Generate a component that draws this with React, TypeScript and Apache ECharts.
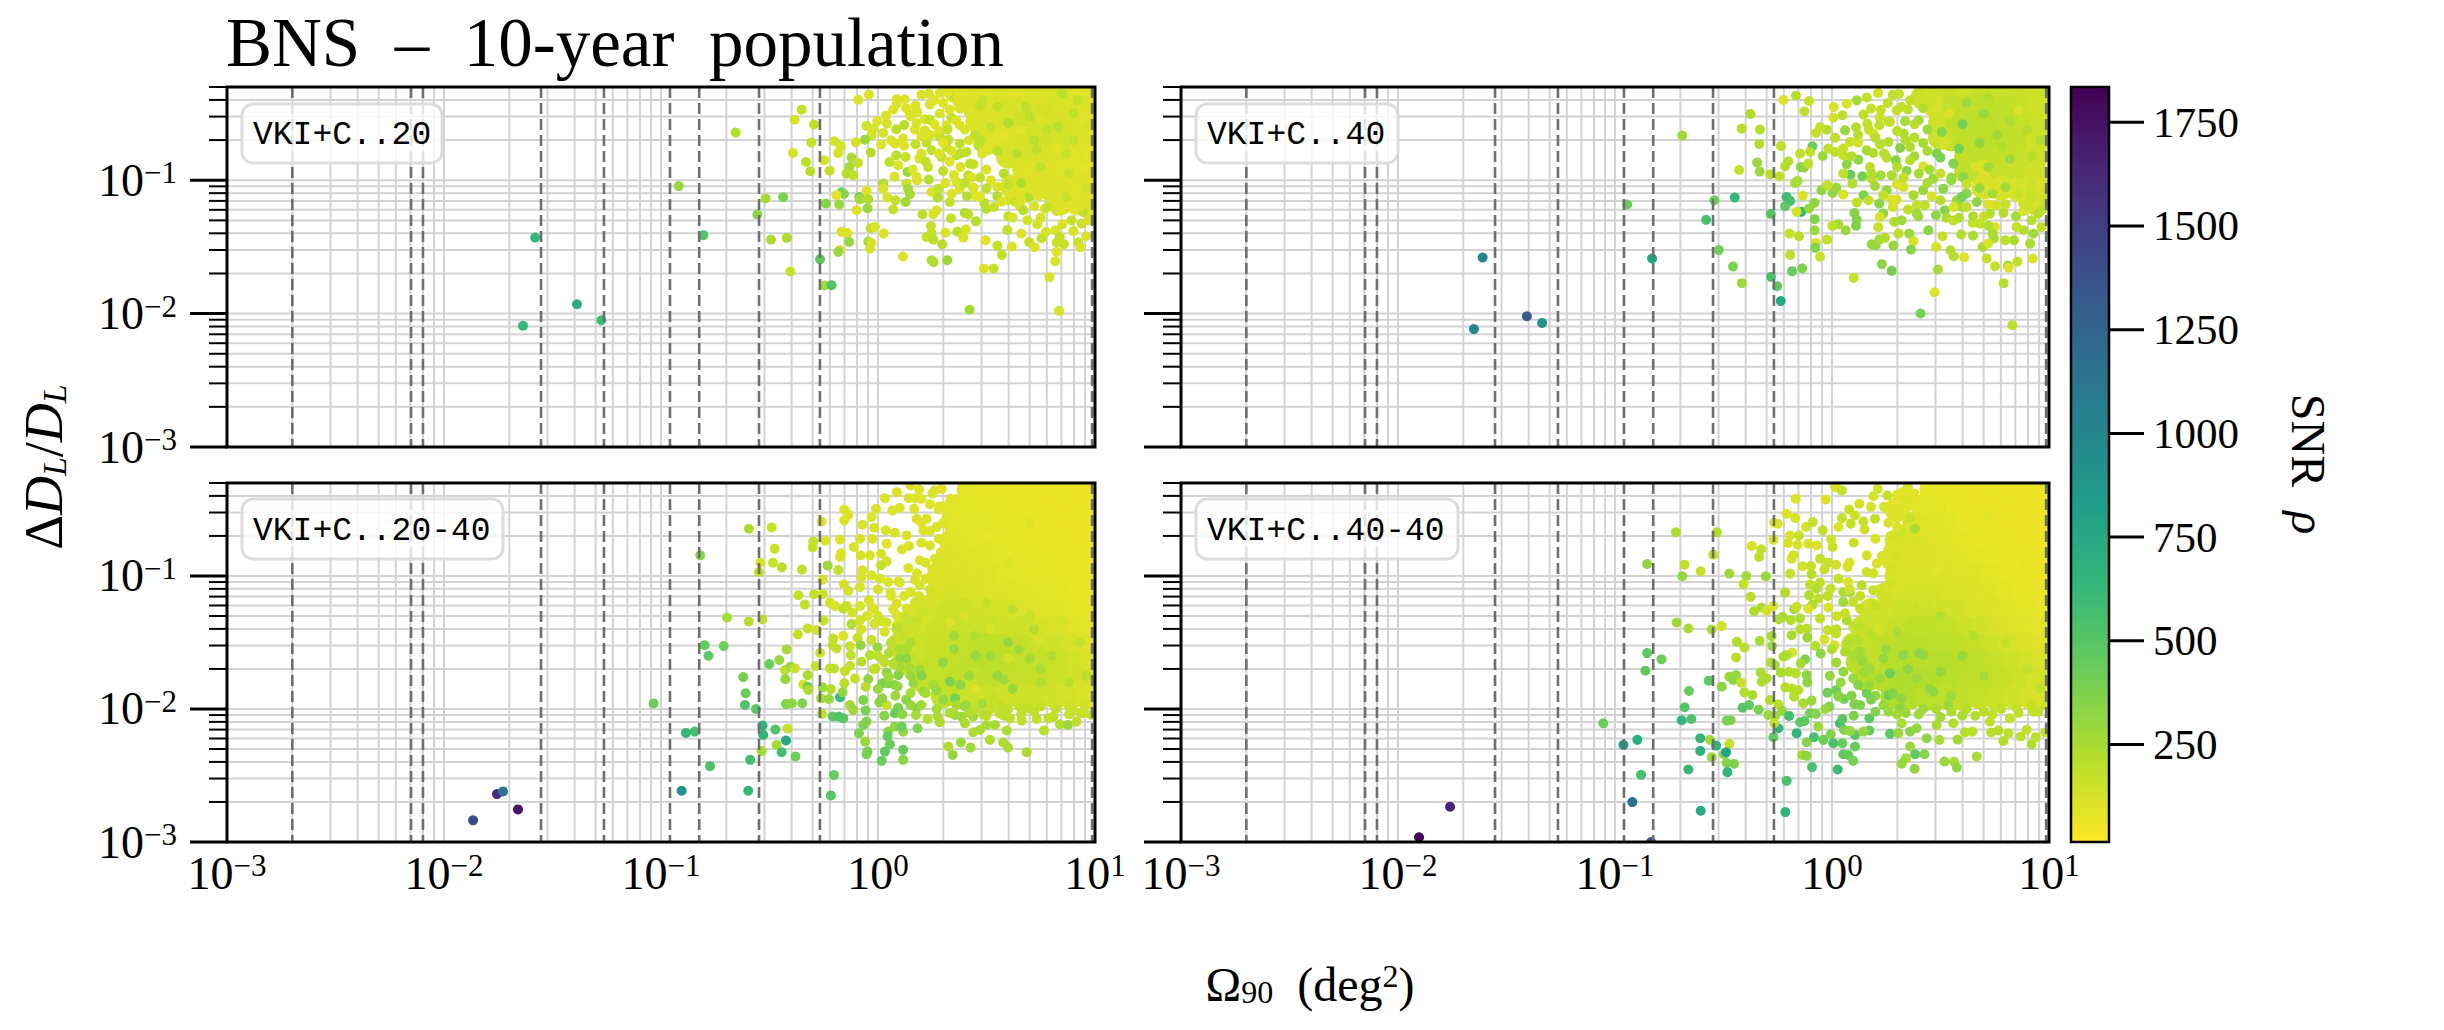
import { useEffect, useRef } from "react";
import * as echarts from "echarts";

// every point is [log10 sky area, log10 dL/dL, SNR]
const pointsTL = [
  [-1.636,-2.091,620],[-1.58,-1.43,620],[-1.387,-1.93,720],[-1.275,-2.05,600],[-.918,-1.044,300],[-.805,-1.412,520],[-.656,-.643,220],
  [-.518,-1.137,270],[-.437,-1.127,380],[-.556,-1.257,350],[-.493,-1.445,240],[-.42,-1.432,240],[-.404,-1.684,170],[-.267,-1.592,470],[-.247,-1.789,270],[-.214,-1.787,520],
  [.422,-1.971,270],[.834,-1.979,130],[-.352,-.471,170],[-.384,-.546,130],[-.295,-.583,170],[-.307,-.718,170],[-.392,-.795,130],[-.332,-.863,210],[-.312,-.933,210],
  [-.248,-.85,130],[-.223,-.928,170],[-.201,-.708,130],[-.172,-.743,130],[-.183,-.795,130],[-.122,-.83,250],[-.092,-.87,170],[-.132,-.9,250],[-.145,-.95,220],[-.114,-.962,200],
  [-.168,-1.09,400],[-.157,-1.103,350],[-.191,-1.112,100],[-.24,-1.175,350],[-.179,-1.182,300],[-.086,-1.125,420],[-.083,-1.142,260],[-.053,-1.08,100],[-.045,-1.142,230],[-.048,-1.21,290],[-.099,-1.225,110],
  [-.168,-1.387,110],[-.142,-1.395,110],[-.133,-1.462,300],[-.176,-1.524,110],[-.183,-1.537,300],[-.034,-1.36,180],[-.014,-1.35,110],[.026,-1.4,110],[-.045,-1.46,270],[-.03,-1.47,110],[-.037,-1.512,130],
  [.115,-1.572,110],[.247,-1.6,240],[.256,-1.614,230],[.319,-1.6,290],[.488,-1.662,100],[.533,-1.662,170],[.496,-1.45,100],[.55,-1.492,180],[.571,-1.56,170],[.617,-1.497,100],[.697,-1.464,170],[.722,-1.502,110],
  [.754,-1.435,170],[.774,-1.387,130],[.818,-1.375,110],[.823,-1.537,100],[.817,-1.607,110],[.79,-1.727,130],[.857,-1.48,170],[.922,-1.465,170],[.933,-1.502,110],[.823,-1.467,170],[.838,-1.425,170],
  [-.091,-.396,110],[-.042,-.358,110],[.086,-.393,110],[.123,-.393,110],[.086,-.426,110],[.173,-.441,110],[.181,-.488,110],[.147,-.506,110],[.239,-.433,110],[.216,-.543,110],[.239,-.546,180],
  [.037,-.516,130],[-.003,-.556,110],[-.053,-.593,150],[-.022,-.613,130],[.041,-.576,130],[.084,-.618,200],[.121,-.585,210],[.178,-.571,110],[.216,-.626,110],[.024,-.646,130],[-.029,-.663,130],[-.06,-.696,290],
  [-.102,-.716,130],[.015,-.733,110],[.078,-.725,110],[.116,-.688,110],[.173,-.73,200],[.224,-.718,180],[.247,-.775,200],[-.033,-.793,210],[.084,-.813,200],[.127,-.825,170],[.053,-.863,190],[.093,-.888,110],
  [.136,-.938,300],[.19,-.838,110],[.231,-.9,170],[.293,-.825,170],[.076,-.973,120],[.131,-1.025,170],[.178,-.975,110],[.234,-.995,220],[.139,-1.065,270],[.147,-1.105,260],[.024,-1.025,230],[.024,-1.063,110],
  [.043,-1.13,110],[.081,-1.15,180],[.127,-1.163,270],[.07,-1.218,180],[.205,-1.255,210],[.247,-1.088,110],[.275,-1.13,220],[.278,-1.063,180],[.331,-1.163,170],[.255,-1.255,110],[.27,-1.225,110],[.336,-1.285,170],
  [.4,-1.245,230],[.416,-1.255,200],[.451,-1.308,220],[.244,-1.343,170],[.247,-1.395,170],[.224,-1.425,170],[.255,-1.445,210],[.311,-1.393,120],[.296,-1.48,210],[.365,-1.385,210],[.405,-1.368,110],[.393,-1.43,110],
  [.5,-1.213,220],[.534,-1.2,170],[.6,-1.15,120],[.6,-1.27,170],[.596,-1.373,180],[.654,-1.195,120],[.67,-1.225,210],[.688,-1.3,130],[.734,-1.33,130],[.769,-1.213,110],[.72,-1.195,110],[.692,-1.13,220],[.785,-1.125,120],
  [.823,-1.23,130],[.892,-1.3,170],[.938,-1.325,160],[.946,-1.24,190],[.869,-1.125,170],[.969,-1.165,110],[.984,-1.3,110],
  [.235,-.351,110],[.285,-.346,110],[.339,-.363,170],[.37,-.363,110],[.285,-.5,110],[.339,-.531,200],[.316,-.588,110],[.377,-.463,110],[.377,-.588,110],[.285,-.676,180],[.324,-.696,190],[.316,-.751,200],
  [.377,-.726,190],[.408,-.788,200],[.462,-.738,180],[.362,-.813,190],[.424,-.875,200],[.416,-.963,190],[.362,-1.013,120],[.439,-1.055,110],[.377,-1.063,110],[.47,-.438,190],[.447,-.663,190],[.485,-.401,170],
  [.3,-.42,100],[.33,-.47,110],[.36,-.55,100],[.4,-.62,110],[.32,-.62,180],[.42,-.7,120],[.38,-.8,190],[.44,-.88,170],[.48,-.8,100],[.5,-.92,110],[.47,-.98,180],[.52,-1,100],[.55,-1.05,120],[.6,-1.03,190],[.62,-1.1,100],
  [.7,-1.06,110],[.74,-1.12,100],[.8,-1.06,110],[.86,-1.05,120],[.9,-1.1,100],[.96,-1.06,150],[.99,-1.12,100],[.98,-1.2,110],[.55,-1.12,230],[.63,-1.16,160],[.45,-1.12,100],[.43,-.98,120],[.41,-1.12,230],[.49,-1.17,200],
  [.42,-.5,100],[.38,-.36,100],[.44,-.32,110],[.52,-.42,100],
  [.55,-.45,190],[.62,-.36,90],[.7,-.52,200],[.76,-.4,100],[.83,-.6,200],[.92,-.4,170],[.96,-.6,130],[.66,-.62,90],[.73,-.77,210],[.8,-.9,100],[.88,-.95,160],[.95,-.9,90],[.64,-.92,110],[.58,-.68,90],[.52,-.6,180],[.47,-.7,200],
  [.9,-.7,180],[.85,-.35,200],[.6,-.52,110],[.75,-.55,100],[.82,-.75,90],[.68,-.88,100],[.97,-.8,90],[.93,-.3,100],
  [.6,-.57,220],[.68,-.45,200],[.72,-.7,210],[.78,-.62,180],[.87,-.8,160],[.9,-.5,190],[.64,-.8,210],[.75,-.9,190],[.55,-.78,200],[.58,-.95,210],[.66,-1.02,230],
  [.17,-.62,110],[.2,-.67,110],[.26,-.58,100],[.28,-.63,110],[.24,-.66,110],[.3,-.72,100],[.34,-.78,110],[.28,-.8,110],[.33,-.86,100],[.38,-.9,100],[.3,-.93,190],[.35,-.96,110],[.2,-.8,110],[.22,-.86,170],[.16,-.92,110],[.12,-.74,100],
  [.15,-.52,110],[.26,-.4,100],[.32,-.34,100],[.2,-.36,110],[.13,-.46,100],[.07,-.47,110],[.06,-.7,110],[.18,-1,100],[.31,-1.02,110],[.4,-1.02,190],[.44,-1.06,110],[.34,-1.1,100],[.5,-1.06,180],[.47,-1.12,100],[.57,-1.16,110],[.66,-1.15,100],
  [.78,-1.2,170],[.85,-1.2,100],[.93,-1.2,110],[.9,-1.38,110],[.96,-1.42,120],[.75,-1.28,120],[.97,-1.3,130],[.85,-1.33,120],[.62,-1.28,120],[.66,-1.4,110],
];
const coreTL = [
  [.42,-.33,105],[.5,-.34,100],[.58,-.33,115],[.66,-.35,105],[.74,-.33,110],[.82,-.34,120],[.9,-.33,100],[.97,-.34,100],
  [.46,-.45,110],[.54,-.46,105],[.62,-.45,125],[.7,-.46,115],[.78,-.45,125],[.86,-.46,115],[.94,-.45,110],
  [.5,-.57,100],[.58,-.58,110],[.66,-.57,135],[.74,-.58,130],[.82,-.57,125],[.9,-.58,120],[.97,-.57,105],
  [.54,-.69,105],[.62,-.7,115],[.7,-.69,130],[.78,-.7,135],[.86,-.69,130],[.94,-.7,110],
  [.6,-.82,120],[.68,-.83,125],[.76,-.82,125],[.84,-.83,115],[.92,-.82,100],[.98,-.83,100],
  [.68,-.94,100],[.76,-.95,105],[.84,-.94,100],[.92,-.95,100],[.98,-.96,100],
  [.62,-1.05,105],[.7,-1.06,100],[.78,-1.05,110],[.86,-1.06,100],[.94,-1.05,100],[.84,-1.17,105],[.92,-1.17,100],[.98,-1.18,105],[.4,-.4,110],[.36,-.33,100],[.46,-.56,110],[.5,-.72,105],
];
const pointsTR = [
  [-1.65,-2.116,1000],[-1.61,-1.58,1000],[-1.406,-2.02,1300],[-1.336,-2.07,900],[-.829,-1.587,800],[-.944,-1.182,430],[-.69,-.665,280],
  [-.542,-1.15,440],[-.448,-1.13,620],[-.58,-1.297,540],[-.522,-1.524,420],[-.456,-1.647,380],[-.415,-1.772,290],[-.281,-1.724,540],[-.253,-1.794,480],[-.236,-1.906,750],
  [-.376,-.503,240],[-.416,-.613,210],[-.332,-.62,220],[-.335,-.728,220],[-.428,-.923,170],[-.345,-.868,300],[-.333,-.935,280],[-.284,-.955,210],[-.241,-.97,190],[-.235,-.743,190],
  [-.224,-.398,100],[-.166,-.366,220],[-.106,-.406,170],[-.127,-.483,200],[-.147,-.8,180],[-.201,-.858,220],[-.216,-.895,220],[-.144,-.9,330],[-.129,-.905,320],[-.109,-.875,200],[-.09,-.745,440],[-.101,-.788,190],
  [-.043,-.818,290],[-.17,-1.02,260],[-.159,-1.005,260],[-.209,-1.125,600],[-.193,-1.155,560],[-.216,-1.195,480],[-.282,-1.252,500],[-.141,-1.237,620],[-.135,-1.115,120],[-.163,-1.237,130],[-.106,-1.212,300],[-.081,-1.17,330],
  [-.08,-1.292,360],[-.08,-1.375,290],[-.049,-1.075,320],[.003,-1.095,320],[.02,-1.055,300],[-.021,-1.04,170],[.052,-1.107,130],[.145,-1.112,380],[.114,-1.167,190],[.218,-1.175,340],[.168,-1.15,170],[.103,-1.245,350],
  [.114,-1.295,350],[.111,-1.342,380],[.063,-1.375,280],[.029,-1.33,260],[.002,-1.342,190],[-.023,-1.445,170],[-.074,-1.47,130],[-.077,-1.507,370],[-.055,-1.574,170],[-.196,-1.4,170],[-.152,-1.42,210],[-.193,-1.56,200],
  [-.137,-1.66,380],[-.184,-1.682,440],[.1,-1.732,170],[.23,-1.629,330],[.275,-1.679,400],[.183,-1.48,290],[.201,-1.487,310],[.218,-1.445,270],[.244,-1.432,230],[.283,-1.49,300],
  [.213,-1.352,170],[.236,-1.25,320],[.221,-1.275,120],[.287,-1.312,240],[.321,-1.3,280],[.306,-1.4,200],[.356,-1.4,290],[.375,-1.457,130],[.364,-1.52,350],[.444,-1.375,330],[.509,-1.42,170],[.48,-1.5,130],
  [.546,-1.525,230],[.561,-1.57,210],[.609,-1.577,110],[.595,-1.407,230],[.65,-1.415,250],[.694,-1.5,250],[.713,-1.587,180],[.751,-1.645,170],[.811,-1.64,280],[.814,-1.657,100],[.854,-1.61,180],[.925,-1.587,110],
  [.791,-1.772,220],[.488,-1.67,260],[.473,-1.84,120],[.408,-1.999,400],[.831,-2.087,200],[.839,-1.45,240],[.913,-1.475,240],[.799,-1.45,190],[.746,-1.437,240],[.72,-1.475,120],
  [.008,-.451,120],[.068,-.426,130],[.114,-.401,270],[.18,-.463,170],[.257,-.421,190],[.212,-.346,150],[.309,-.353,170],[.048,-.513,200],[.006,-.531,130],[.145,-.508,200],[.226,-.471,170],[.163,-.576,180],[.218,-.588,190],
  [.267,-.563,170],[.298,-.476,170],[.337,-.558,260],[.36,-.401,190],[-.024,-.621,220],[-.055,-.601,170],[-.074,-.646,170],[.06,-.626,300],[.111,-.603,220],[.19,-.651,130],[.014,-.681,190],[.083,-.713,170],[.121,-.718,130],
  [.052,-.763,170],[-.017,-.763,190],[.014,-.788,190],[.221,-.731,220],[.26,-.713,220],[.314,-.758,350],[.36,-.751,240],[.16,-.776,260],[.191,-.796,230],[.052,-.813,170],[.121,-.846,330],[.068,-.881,330],[.252,-.831,200],
  [.294,-.851,350],[.175,-.901,190],[.085,-.958,440],[.14,-.971,390],[.052,-.951,200],[.094,-1.025,230],[.183,-.988,190],[.224,-.963,270],[.275,-.963,240],[.344,-.93,340],[.198,-1.043,270],[.252,-1.075,310],[.237,-1.112,180],
  [.275,-1.145,120],[.298,-1.145,120],[.329,-1.05,130],[.42,-1.075,290],[.375,-1.112,250],[.428,-1.188,180],[.39,-1.188,180],[.39,-1.25,300],[.398,-1.27,270],[.479,-1.262,320],[.52,-1.225,360],[.528,-1.281,240],[.585,-1.281,230],
  [.559,-1.301,200],[.648,-1.32,170],[.682,-1.325,170],[.575,-1.15,300],[.667,-1.163,330],[.728,-1.25,220],[.756,-1.188,130],[.79,-1.245,230],[.848,-1.27,260],[.882,-1.232,110],[.951,-1.25,210],[.92,-1.3,220],[.882,-1.375,210],
  [.928,-1.4,270],[.966,-1.35,190],[.751,-1.35,120],[.721,-1.342,230],[.74,-1.4,240],[.421,-.895,120],[.467,-.988,280],[.513,-1.063,330],[.62,-1.1,330],[.598,-1.125,400],[.483,-.8,380],[.506,-.638,350],[.601,-.581,400],
  [.585,-.763,400],[.5,-.83,380],[.559,-.875,360],[.605,-.975,330],[.7,-.5,300],[.76,-.66,280],[.82,-.56,240],[.68,-.72,320],[.9,-.62,230],[.72,-.9,270],[.82,-.84,280],[.92,-.82,210],[.42,-.46,230],[.44,-.62,290],[.38,-.68,220],
  [.4,-.34,170],[.35,-.47,200],[.4,-.55,260],[.33,-.65,240],[.42,-.72,260],[.38,-.82,280],[.45,-.92,270],[.5,-.95,170],[.55,-1,280],[.52,-.72,130],[.62,-1.03,170],[.68,-1.06,300],[.74,-1.1,260],[.8,-1.05,270],[.86,-1.1,170],
  [.92,-1.12,180],[.98,-1.15,170],[.96,-1.02,120],[.72,-1.18,110],[.6,-1.2,250],[.66,-.9,120],[.78,-.75,230],[.86,-.48,110],[.96,-.7,230],[.62,-.42,280],[.54,-.5,110],[.72,-.38,230],
  [.17,-.62,170],[.2,-.68,210],[.26,-.56,190],[.3,-.63,200],[.24,-.8,210],[.34,-.7,230],[.38,-.58,210],[.3,-.9,230],[.36,-.85,210],[.4,-.95,260],[.33,-.98,180],[.3,-1.03,110],[.22,-.53,170],[.16,-.38,170],[.28,-.36,190],[.32,-.45,180],
  [.12,-.66,210],[.09,-.82,230],[.18,-.95,230],[.44,-1.02,240],[.5,-1.15,230],[.46,-1.12,120],[.56,-1.2,110],[.62,-1.2,190],[.7,-1.27,170],[.8,-1.18,170],[.88,-1.17,130],[.97,-1.22,200],[.85,-1.35,170],[.65,-1.27,240],[.55,-.98,300],
  [.9,-1.2,150],[.44,-.78,260],[.28,-1.2,130],[.35,-1.22,190],
];
const coreTR = [
  [.46,-.33,150],[.54,-.34,165],[.62,-.33,150],[.7,-.35,175],[.78,-.33,165],[.86,-.34,160],[.94,-.33,150],
  [.48,-.45,130],[.56,-.46,180],[.64,-.45,190],[.72,-.46,195],[.8,-.45,185],[.88,-.46,165],[.96,-.45,150],
  [.5,-.57,140],[.58,-.58,190],[.66,-.57,200],[.74,-.58,205],[.82,-.57,190],[.9,-.58,165],[.97,-.57,150],
  [.55,-.69,180],[.63,-.7,190],[.71,-.69,200],[.79,-.7,200],[.87,-.69,180],[.95,-.7,150],
  [.62,-.82,195],[.7,-.83,190],[.78,-.82,180],[.86,-.83,175],[.94,-.82,150],
  [.7,-.94,110],[.78,-.95,175],[.86,-.94,165],[.94,-.95,140],
  [.86,-1.07,130],[.95,-1.07,150],
  [.62,-.93,190],[.7,-1.05,120],[.78,-1.06,120],[.94,-1.17,130],[.42,-.38,150],[.5,-.68,160],
];
const pointsBL = [
  [-1.866,-2.837,1400],[-1.756,-2.64,1600],[-1.728,-2.62,1150],[-1.659,-2.755,1720],
  [-1.034,-1.958,430],[-.905,-2.615,900],[-.885,-2.18,620],[-.844,-2.17,560],[-.774,-2.43,530],[-.799,-1.52,450],[-.781,-1.6,480],[-.711,-1.527,420],[-.819,-.845,340],[-.696,-1.312,270],[-.595,-.645,240],[-.49,-.635,170],
  [-.476,-.795,170],[-.596,-1.342,220],[-.533,-1.327,200],[-.542,-.9,130],[-.549,-.97,190],[-.484,-.9,170],[-.443,-.935,210],[-.35,-.952,200],[-.232,-.922,290],[-.183,-.955,180],[-.26,-.59,110],[-.243,-.735,110],[-.298,-.74,170],[-.301,-.785,170],
  [-.367,-1.145,170],[-.337,-1.215,170],[-.294,-1.137,180],[-.254,-1.137,160],[-.255,-1.027,130],[-.369,-1.44,170],[-.324,-1.395,170],[-.283,-1.407,130],[-.251,-1.335,170],[-.421,-1.552,260],[-.455,-1.632,300],[-.501,-1.662,430],
  [-.429,-1.707,200],[-.403,-1.682,290],[-.383,-1.695,170],[-.287,-1.677,170],[-.324,-1.745,240],[-.427,-1.775,300],[-.621,-1.76,390],[-.61,-1.882,440],[-.613,-1.97,530],[-.562,-2.0,480],[-.424,-1.962,360],[-.397,-1.957,320],[-.349,-1.957,370],
  [-.344,-1.815,130],[-.324,-1.832,400],[-.321,-1.857,240],[-.532,-2.125,650],[-.529,-2.195,640],[-.473,-2.155,520],[-.417,-2.147,170],[-.424,-2.237,750],[-.467,-2.27,260],[-.444,-2.325,580],[-.536,-2.315,270],[-.589,-2.382,580],[-.38,-2.357,420],
  [-.598,-2.615,620],[-.203,-2.497,450],[-.217,-2.65,500],[-.258,-2.037,180],[-.175,-1.912,600],[-.209,-2.057,470],[-.18,-2.057,530],[-.16,-2.07,500],
  [-.155,-.5,110],[-.137,-.54,110],[-.155,-.582,110],[-.072,-.615,120],[-.029,-.557,110],[-.009,-.495,110],[.032,-.415,110],[.087,-.37,110],[.141,-.415,110],[.173,-.415,110],[.15,-.32,110],[.066,-.507,110],[.1,-.487,100],[.167,-.495,110],
  [-.017,-.637,120],[.035,-.657,120],[.078,-.675,120],[.132,-.695,110],[.143,-.775,110],[.04,-.757,100],[-.026,-.72,120],[-.083,-.72,120],[-.175,-.725,120],[-.111,-.782,110],[-.08,-.845,120],[-.037,-.845,110],[.014,-.832,120],[-.175,-.857,110],[-.17,-.83,110],
  [.04,-.89,130],[.014,-.92,170],[-.071,-.957,120],[-.076,-1.007,120],[-.029,-.995,110],[.009,-1.02,120],[.047,-1.045,110],[.094,-1.04,110],[.14,-.94,110],[.193,-.882,110],[-.157,-1.062,130],[-.137,-1.112,130],[-.083,-1.082,120],[0,-1.102,120],
  [.058,-1.127,110],[.086,-1.207,110],[-.042,-1.182,120],[-.083,-1.225,120],[-.026,-1.24,120],[-.221,-1.2,140],[-.198,-1.225,120],[-.16,-1.245,210],[-.145,-1.225,170],[-.119,-1.275,130],[-.122,-1.362,230],[-.083,-1.332,130],[-.076,-1.4,130],[.017,-1.34,130],
  [-.017,-1.357,130],[.086,-1.295,120],[.14,-1.25,110],[-.16,-1.45,100],[-.206,-1.47,180],[-.209,-1.52,180],[-.191,-1.545,190],[-.129,-1.527,160],[-.125,-1.595,180],[-.094,-1.465,170],[-.08,-1.52,320],[-.267,-1.577,150],[-.221,-1.695,180],[-.203,-1.695,190],
  [-.152,-1.715,170],[-.129,-1.675,170],[-.106,-1.77,170],[-.076,-1.645,210],[-.037,-1.595,220],[-.002,-1.537,300],[.024,-1.632,220],[.04,-1.725,320],[-.011,-1.695,170],[.094,-1.745,350],[-.045,-1.775,320],[-.155,-1.807,200],[-.255,-1.837,300],[-.217,-1.85,230],
  [-.163,-1.875,320],[-.057,-1.832,210],[.02,-1.807,380],[.047,-1.807,350],[.078,-1.82,360],[.163,-1.807,300],
  [-.263,-1.92,240],[-.226,-1.925,300],[-.129,-1.97,260],[-.114,-2.007,280],[-.068,-1.932,380],[.006,-1.95,330],[.04,-1.97,170],[-.057,-2.01,400],[.093,-1.99,380],[.078,-2.032,430],[.178,-1.995,360],[.029,-2.05,350],[.112,-2.04,330],[.175,-2.045,260],
  [.229,-2.075,230],[.275,-2.057,260],[.285,-2.1,240],[-.068,-2.12,380],[-.053,-2.095,350],[-.088,-2.182,370],[.047,-2.17,340],[.078,-2.132,330],[.116,-2.17,310],[.182,-2.145,370],[.109,-2.132,430],[.044,-2.207,450],[.055,-2.265,430],[-.059,-2.245,290],
  [-.049,-2.32,400],[-.053,-2.34,390],[.032,-2.32,470],[.017,-2.39,430],[.116,-2.307,450],[.116,-2.382,340],[.324,-2.282,230],[.344,-2.345,300],[.382,-2.252,290],[.427,-2.29,280],[.516,-2.232,230],[.577,-2.252,250],[.599,-2.29,240],[.685,-2.325,250],
  [.439,-2.175,250],[.47,-2.157,240],[.5,-2.12,250],[.539,-2.12,260],[.593,-2.162,240],[.765,-2.162,220],[.838,-2.115,220],[.875,-2.12,290],[.915,-2.095,190],[.934,-2.032,170],[.559,-2.032,180],[.662,-2.087,200],[.731,-2.075,190],[.785,-2.07,180],
  [.355,-2.045,270],[.385,-2.057,280],[.439,-2.057,270],[.485,-2.04,200],[.401,-2.107,240],[.608,-2.07,200],[.808,-2.057,190],[.9,-2.007,170],[.984,-2.045,170],[.692,-1.995,190],[.531,-1.92,170],
  [.262,-.357,100],[.293,-.345,100],[.39,-.357,90],[.335,-.42,100],[.285,-.475,110],[.178,-.57,110],[.224,-.57,110],[.27,-.632,110],[.316,-.557,110],[.209,-.657,110],[.239,-.77,120],[.324,-.782,110],[.262,-.87,110],[.331,-.857,110],[.27,-.92,120],
  [.193,-1.07,120],[.224,-1.182,120],[.132,-1.245,120],[.132,-1.37,170],[.178,-1.345,170],[.086,-1.47,150],[.132,-1.545,240],[.101,-1.62,300],[.147,-1.695,250],[.193,-1.707,280],[.255,-1.82,260],[.331,-1.795,380],[.355,-1.92,400],[.209,-1.87,300],[.408,-1.97,260],
  [.52,-1.6,280],[.6,-1.5,300],[.7,-1.62,260],[.45,-1.45,230],[.35,-1.55,280],[.42,-1.75,300],[.58,-1.78,270],[.75,-1.8,230],[.62,-1.25,200],[.72,-1.4,230],[.5,-1.2,170],
  [.2,-.42,100],[.24,-.46,100],[.28,-.5,100],[.33,-.5,90],[.36,-.45,90],[.3,-.6,100],[.35,-.62,90],[.24,-.66,110],[.28,-.72,110],[.33,-.7,100],[.36,-.78,100],[.2,-.75,110],[.29,-.82,110],[.36,-.92,100],[.32,-.95,110],[.27,-1,120],[.3,-1.06,110],[.22,-1.02,110],
  [.24,-1.1,130],[.19,-1.15,120],[.15,-1.12,110],[.17,-1.2,130],[.21,-1.27,150],[.12,-1.3,150],[.15,-1.36,170],[.09,-1.39,200],[.12,-1.45,170],[.06,-1.5,200],[.15,-1.5,240],[.1,-1.55,250],[.05,-1.58,230],[.1,-1.68,280],[.13,-1.62,330],[.15,-1.75,300],[.07,-1.66,220],
  [.2,-1.75,350],[.22,-1.88,260],[.27,-1.86,300],[.3,-1.93,310],[.36,-1.97,240],[.45,-2,200],[.52,-2,190],[.6,-2,190],[.65,-1.98,170],[.75,-1.98,170],[.82,-2,180],[.88,-1.98,160],[.95,-1.97,150],[.4,-1.98,300],[.48,-1.96,260],[.56,-1.97,170],
  [.35,-1.45,280],[.45,-1.6,300],[.55,-1.75,310],[.65,-1.55,270],[.75,-1.7,250],[.4,-1.3,100],[.5,-1.1,100],[.6,-.9,120],[.5,-.7,70],[.7,-.6,100],[.3,-1.65,320],[.38,-1.82,330],[.62,-1.85,290],[.8,-1.6,230],[.88,-1.8,210],[.93,-1.5,180],[.96,-1.75,200],
  [.7,-1.3,160],[.85,-1.35,130],[.45,-1.85,100],[.33,-1.35,110],[.6,-1.62,130],[.74,-1.48,120],[.52,-1.4,110],[.2,-1.6,150],
  [0,-1.3,130],[.03,-1.42,120],[.03,-1.65,200],[0,-1.6,190],[-.03,-1.48,170],[-.02,-1.7,190],[.05,-1.76,280],[0,-1.85,300],[.02,-1.92,330],[.09,-1.83,310],[.13,-1.93,340],[.08,-1.9,290],[.15,-1.88,260],[.06,-1.15,110],[.12,-1.15,110],[.1,-1.05,110],[.18,-.98,110],
  [.25,-.95,110],[.11,-.8,110],[.2,-.6,100],[.25,-.38,100],[.19,-.35,100],[.22,-.9,110],[.17,-1.03,110],[-.05,-1.3,130],[.07,-1.25,120],[.04,-1.35,130],[.2,-1.97,280],[.27,-2,260],[.33,-2.03,240],[.42,-2.03,230],[.5,-2.05,210],[.58,-2.05,200],[.66,-2.04,190],
  [.72,-2.02,190],[.88,-2.04,170],[.95,-2.03,170],[.15,-1.97,300],[-.02,-1.25,120],[.14,-1.4,150],
];
const coreBL = [
  [.42,-.35,80],[.5,-.36,75],[.58,-.35,70],[.66,-.36,70],[.74,-.35,65],[.82,-.36,65],[.9,-.35,65],[.97,-.36,65],
  [.44,-.48,85],[.52,-.49,80],[.6,-.48,75],[.68,-.49,70],[.76,-.48,65],[.84,-.49,65],[.92,-.48,65],[.98,-.49,65],
  [.44,-.61,90],[.52,-.62,85],[.6,-.61,80],[.68,-.62,75],[.76,-.61,70],[.84,-.62,65],[.92,-.61,65],[.98,-.62,65],
  [.42,-.74,90],[.5,-.75,90],[.58,-.74,85],[.66,-.75,75],[.74,-.74,75],[.82,-.75,70],[.9,-.74,65],[.98,-.75,65],
  [.4,-.87,100],[.48,-.88,95],[.56,-.87,90],[.64,-.88,80],[.72,-.87,80],[.8,-.88,70],[.88,-.87,70],[.96,-.88,65],
  [.36,-1,110],[.44,-1.01,105],[.52,-1,100],[.6,-1.01,90],[.68,-1,85],[.76,-1.01,80],[.84,-1,75],[.92,-1.01,70],[.98,-1,70],
  [.28,-1.13,120],[.36,-1.14,125],[.44,-1.13,115],[.52,-1.14,105],[.6,-1.13,105],[.68,-1.14,95],[.76,-1.13,90],[.84,-1.14,85],[.92,-1.13,75],[.98,-1.14,70],
  [.24,-1.26,130],[.32,-1.27,150],[.4,-1.26,150],[.48,-1.27,135],[.56,-1.26,130],[.64,-1.27,115],[.72,-1.26,105],[.8,-1.27,95],[.88,-1.26,85],[.96,-1.27,80],
  [.2,-1.39,135],[.28,-1.4,155],[.36,-1.39,165],[.44,-1.4,160],[.52,-1.39,160],[.6,-1.4,145],[.68,-1.39,140],[.76,-1.4,125],[.84,-1.39,110],[.92,-1.4,95],[.98,-1.39,85],
  [.18,-1.52,150],[.26,-1.53,165],[.34,-1.52,165],[.42,-1.53,175],[.5,-1.52,185],[.58,-1.53,185],[.66,-1.52,170],[.74,-1.53,155],[.82,-1.52,145],[.9,-1.53,125],[.97,-1.52,105],
  [.2,-1.65,180],[.28,-1.66,170],[.36,-1.65,175],[.44,-1.66,185],[.52,-1.65,200],[.6,-1.66,195],[.68,-1.65,175],[.76,-1.66,175],[.84,-1.65,155],[.92,-1.66,135],[.98,-1.65,115],
  [.28,-1.78,175],[.36,-1.79,185],[.44,-1.78,175],[.52,-1.79,185],[.6,-1.78,175],[.68,-1.79,170],[.76,-1.78,165],[.84,-1.79,150],[.92,-1.78,135],[.98,-1.79,120],
  [.42,-1.9,155],[.5,-1.91,150],[.58,-1.9,145],[.66,-1.91,150],[.74,-1.9,145],[.82,-1.91,135],[.9,-1.9,125],[.97,-1.91,115],
  [.12,-1.39,135],[.1,-1.52,150],[.12,-1.65,170],[.2,-1.78,175],[.3,-1.9,180],[.2,-1.27,125],[.28,-1.01,105],[.34,-.87,100],[.36,-.61,85],[.36,-.48,85],[.34,-.74,95],
];
const pointsBR = [
  [-1.903,-2.965,1820],[-1.76,-2.735,1650],[-.834,-3.0,1300],
  [-1.054,-2.107,430],[-.961,-2.27,850],[-.897,-2.232,700],[-.92,-2.7,1150],[-.88,-2.495,560],[-.852,-1.58,480],[-.786,-1.627,420],[-.86,-1.712,470],[-.852,-.91,330],[-.719,-.672,240],[-.531,-.672,240],[-.547,-.84,190],[-.68,-.915,190],[-.69,-1.002,310],
  [-.605,-.965,170],[-.473,-.982,280],[-.395,-1,280],[-.305,-1.002,300],[-.716,-1.35,280],[-.662,-1.395,250],[-.554,-1.402,250],[-.508,-1.377,140],[-.438,-1.495,230],[-.404,-1.537,210],[-.442,-1.612,210],[-.659,-1.865,440],[-.568,-1.787,470],[-.508,-1.832,330],
  [-.679,-1.987,510],[-.693,-2.085,620],[-.648,-2.075,530],[-.485,-2.087,410],[-.467,-2.085,380],[-.607,-2.22,640],[-.607,-2.315,680],[-.562,-2.232,270],[-.534,-2.275,640],[-.473,-2.262,170],[-.498,-2.34,340],[-.488,-2.325,780],[-.554,-2.362,280],[-.485,-2.407,350],
  [-.451,-2.412,370],[-.482,-2.475,630],[-.662,-2.455,620],[-.605,-2.765,730],[-.209,-2.54,550],[-.215,-2.775,650],
  [-.37,-.775,130],[-.327,-.8,170],[-.336,-.857,190],[-.407,-1.062,170],[-.375,-1.157,210],[-.359,-1.265,230],[-.325,-1.237,240],[-.301,-1.262,150],[-.27,-1.225,110],[-.167,-.42,110],[-.029,-.425,110],[.014,-.332,110],[.045,-.357,170],
  [-.267,-.6,110],[-.25,-.607,110],[-.27,-.727,110],[-.209,-.532,110],[-.17,-.565,130],[-.193,-.695,120],[-.152,-.695,170],[-.203,-.752,120],[-.158,-.765,120],[-.178,-.845,130],[-.186,-.87,130],[-.12,-.632,130],[-.089,-.595,170],[-.043,-.657,200],[-.109,-.757,130],[-.07,-.77,110],
  [-.004,-.725,150],[.003,-.782,170],[.03,-.632,110],[.046,-.565,170],[.079,-.5,170],[.126,-.457,130],[.086,-.607,170],[.145,-.59,170],[.106,-.545,150],[.198,-.57,170],[.191,-.4,130],[.211,-.345,130],[.255,-.395,170],
  [-.193,-.982,170],[-.135,-.927,130],[-.097,-.925,170],[-.094,-.987,210],[-.035,-.95,170],[.019,-.915,150],[-.017,-.9,170],[-.055,-.87,170],[.072,-.932,130],[-.101,-1.065,170],[-.055,-1.05,180],[-.071,-1.095,220],[-.216,-1.125,230],[-.106,-1.145,230],[-.063,-1.17,190],[-.09,-1.215,240],
  [-.006,-1.095,170],[.075,-1.045,100],[.052,-1.12,240],[.083,-1.12,250],[.052,-1.195,270],[-.017,-1.237,110],[.022,-1.302,150],[-.055,-1.32,180],[-.227,-1.307,250],[-.244,-1.325,240],[-.19,-1.332,220],[-.147,-1.32,240],[-.175,-1.25,260],[-.163,-1.232,170],[-.109,-1.245,120],
  [-.186,-1.445,250],[-.147,-1.4,210],[-.117,-1.395,210],[-.114,-1.462,290],[-.02,-1.407,170],[.019,-1.432,170],[-.278,-1.452,260],[-.333,-1.487,240],[-.276,-1.527,280],[-.035,-1.477,120],[.011,-1.52,120],[-.077,-1.525,220],[-.052,-1.582,330],[-.124,-1.627,370],[-.183,-1.575,120],
  [-.209,-1.595,240],[-.224,-1.607,240],[-.144,-1.657,250],[-.281,-1.65,240],[-.263,-1.67,260],[-.329,-1.725,240],[-.301,-1.77,240],[-.324,-1.795,240],[-.236,-1.725,250],[-.198,-1.72,220],[-.167,-1.732,220],[-.117,-1.745,340],[-.114,-1.8,330],[-.473,-1.757,300],[-.442,-1.745,310],[-.455,-1.782,330],
  [-.419,-1.802,170],[-.404,-1.875,220],[-.367,-1.895,250],[-.215,-1.837,230],[-.186,-1.845,200],[-.155,-1.857,210],[-.175,-1.907,220],[-.132,-1.957,250],[-.094,-1.937,300],[-.021,-1.877,420],[.019,-1.857,420],[.055,-1.925,420],[.029,-1.907,320],[-.012,-1.982,350],[.103,-1.962,380],
  [-.286,-1.932,230],[-.247,-1.965,200],[-.229,-2.015,310],[-.293,-2.045,300],[-.261,-2.05,270],[-.412,-1.99,500],[-.382,-1.97,480],[-.338,-2.005,380],[-.198,-2.052,570],[-.147,-2.1,470],[-.127,-2.09,480],[-.101,-2.032,400],[-.074,-2.037,360],[-.063,-2.132,290],[-.247,-2.145,650],[-.267,-2.107,170],
  [-.163,-2.182,650],[-.27,-2.212,470],[-.083,-2.212,550],[-.04,-2.232,430],[-.006,-2.19,360],[.037,-2.107,580],[.048,-2.075,480],[.055,-2.157,380],[-.117,-2.25,350],[.006,-2.257,540],[.048,-2.257,440],[.106,-2.195,480],[.106,-2.282,450],[.172,-2.07,480],[.172,-2.162,450],[.145,-2.17,300],[.083,-2.165,300],
  [.052,-2.34,470],[.075,-2.345,450],[.098,-2.39,400],[-.137,-2.345,250],[-.117,-2.352,330],[-.092,-2.437,540],[.026,-2.455,600],[.267,-2.187,480],[.306,-2.182,300],[.36,-2.17,340],[.39,-2.145,320],[.436,-2.22,330],[.495,-2.232,260],[.579,-2.23,280],[.36,-2.282,290],[.383,-2.34,470],[.426,-2.34,350],
  [.341,-2.37,270],[.321,-2.412,300],[.381,-2.45,320],[.518,-2.395,300],[.562,-2.395,270],[.575,-2.44,320],[.667,-2.357,250],[.613,-2.175,220],[.647,-2.17,200],[.733,-2.177,210],[.767,-2.162,210],[.813,-2.182,200],[.79,-2.24,220],[.869,-2.207,200],[.897,-2.157,180],[.939,-2.212,190],[.92,-2.265,230],[.982,-2.175,180],
  [.728,-2.095,190],[.82,-2.07,180],[.928,-2.02,170],[.482,-2.12,250],[.559,-2.107,230],[.321,-2.107,260],
  [.16,-.845,130],[.206,-.907,120],[.267,-.932,130],[.16,-.97,150],[.137,-1.07,210],[.19,-1.107,170],[.098,-1.195,170],[.129,-1.245,170],[.183,-1.22,150],[.237,-1.27,150],[.068,-1.332,250],[.098,-1.382,170],[.16,-1.42,170],[.214,-1.395,130],[.075,-1.495,230],[.129,-1.57,280],[.06,-1.57,240],
  [.052,-1.72,320],[.098,-1.77,290],[.121,-1.82,360],[.16,-1.882,430],[.26,-1.895,440],[.237,-1.97,300],[.314,-1.995,330],[.221,-1.77,280],[.267,-1.732,420],[.175,-1.695,270],[.237,-1.62,300],[.329,-1.595,330],[.39,-1.77,290],[.421,-1.595,300],[.467,-1.87,330],[.536,-1.97,300],
  [.314,-.67,160],[.298,-.52,130],[.36,-.57,160],[.383,-.645,250],[.26,-.6,120],[.3,-.39,100],[.35,-.33,110],
  [.34,-.42,110],[.38,-.38,100],[.31,-.5,110],[.28,-.56,110],[.3,-.63,120],[.27,-.7,130],[.31,-.76,120],[.26,-.8,120],[.3,-.85,130],[.28,-.95,130],[.27,-1.05,140],[.29,-1.12,120],[.22,-1.1,140],[.25,-1.18,140],[.2,-1.22,170],[.17,-1.3,170],[.13,-1.38,200],[.18,-1.44,200],
  [.12,-1.48,220],[.1,-1.6,260],[.14,-1.64,300],[.15,-1.72,280],[.17,-1.82,290],[.2,-1.9,330],[.28,-1.88,350],[.32,-1.92,320],[.42,-2,280],[.48,-2,250],[.55,-2.02,240],[.62,-2,220],[.7,-2.02,210],[.78,-2,190],[.85,-1.99,180],[.92,-1.98,175],[.98,-1.97,160],
  [.3,-1.42,240],[.4,-1.58,320],[.5,-1.72,310],[.6,-1.6,290],[.7,-1.75,260],[.35,-1.7,330],[.45,-1.85,320],[.55,-1.9,280],[.25,-1.55,300],[.65,-1.45,220],[.8,-1.5,170],[.9,-1.7,180],[.5,-1.3,230],[.42,-1.2,130],[.58,-1.1,110],[.48,-.95,90],[.62,-.8,80],[.4,-.75,130],
  [.72,-.55,100],[.88,-.9,90],[.75,-1.2,120],[.85,-1.6,150],[.96,-1.85,190],
  [.06,-1.28,170],[.02,-1.4,190],[0,-1.55,230],[.02,-1.65,280],[.04,-1.8,300],[-.01,-1.75,320],[.03,-1.9,340],[.09,-1.9,350],[.13,-1.97,380],[.18,-1.93,380],[.08,-1.1,150],[.13,-1.15,170],[.19,-.98,130],[.23,-.85,120],[.2,-.72,120],[.18,-.48,130],[.24,-.48,120],
  [.15,-.65,150],[.1,-.75,150],[.08,-.9,130],[.03,-1.02,170],[-.02,-1.15,190],[.26,-2.02,290],[.34,-2.03,290],[.4,-2.04,270],[.5,-2.06,260],[.6,-2.05,240],[.66,-2.05,230],[.74,-2.04,200],[.86,-2.03,190],[.95,-2.02,180],[.2,-2.02,360],[.1,-2.05,380],[.3,-2.04,260],[-.03,-2,300],
];
const coreBR = [
  [.46,-.35,70],[.54,-.36,70],[.62,-.35,65],[.7,-.36,65],[.78,-.35,65],[.86,-.36,65],[.94,-.35,65],
  [.42,-.48,90],[.5,-.49,85],[.58,-.48,70],[.66,-.49,65],[.74,-.48,65],[.82,-.49,65],[.9,-.48,65],[.98,-.49,65],
  [.38,-.61,110],[.46,-.62,100],[.54,-.61,90],[.62,-.62,75],[.7,-.61,70],[.78,-.62,65],[.86,-.61,65],[.94,-.62,65],
  [.36,-.74,110],[.44,-.75,105],[.52,-.74,95],[.6,-.75,85],[.68,-.74,75],[.76,-.75,70],[.84,-.74,65],[.92,-.75,65],[.98,-.74,65],
  [.36,-.87,105],[.44,-.88,110],[.52,-.87,105],[.6,-.88,95],[.68,-.87,85],[.76,-.88,75],[.84,-.87,70],[.92,-.88,65],[.98,-.87,65],
  [.34,-1,115],[.42,-1.01,115],[.5,-1,115],[.58,-1.01,105],[.66,-1,100],[.74,-1.01,85],[.82,-1,75],[.9,-1.01,70],[.97,-1,65],
  [.32,-1.13,120],[.4,-1.14,130],[.48,-1.13,125],[.56,-1.14,115],[.64,-1.13,110],[.72,-1.14,100],[.8,-1.13,85],[.88,-1.14,75],[.96,-1.13,70],
  [.26,-1.26,140],[.34,-1.27,155],[.42,-1.26,155],[.5,-1.27,145],[.58,-1.26,135],[.66,-1.27,115],[.74,-1.26,105],[.82,-1.27,95],[.9,-1.26,85],[.98,-1.27,75],
  [.22,-1.39,145],[.3,-1.4,170],[.38,-1.39,185],[.46,-1.4,185],[.54,-1.39,175],[.62,-1.4,155],[.7,-1.39,135],[.78,-1.4,120],[.86,-1.39,105],[.94,-1.4,90],
  [.18,-1.52,175],[.26,-1.53,195],[.34,-1.52,210],[.42,-1.53,210],[.5,-1.52,200],[.58,-1.53,190],[.66,-1.52,170],[.74,-1.53,150],[.82,-1.52,130],[.9,-1.53,110],[.98,-1.52,100],
  [.2,-1.65,175],[.28,-1.66,210],[.36,-1.65,215],[.44,-1.66,210],[.52,-1.65,220],[.6,-1.66,210],[.68,-1.65,185],[.76,-1.66,170],[.84,-1.65,150],[.92,-1.66,130],[.98,-1.65,115],
  [.24,-1.78,210],[.32,-1.79,235],[.4,-1.78,225],[.48,-1.79,220],[.56,-1.78,215],[.64,-1.79,190],[.72,-1.78,180],[.8,-1.79,170],[.88,-1.78,150],[.95,-1.79,130],
  [.36,-1.91,225],[.44,-1.92,205],[.52,-1.91,190],[.6,-1.92,180],[.68,-1.91,175],[.76,-1.92,160],[.84,-1.91,145],[.92,-1.92,125],[.98,-1.91,115],
  [.26,-1.13,130],[.28,-.87,110],[.3,-.74,110],[.3,-.5,100],[.34,-.42,90],[.14,-1.39,160],[.1,-1.52,180],[.12,-1.65,200],[.16,-1.78,215],[.28,-1.91,235],[.3,-1,115],[.18,-1.26,135],
];

const panelNames = ["VKI+C..20", "VKI+C..40", "VKI+C..20-40", "VKI+C..40-40"];
const dashedX = [0.002, 0.00705, 0.008, 0.028, 0.0546, 0.11, 0.15, 0.283, 0.54, 9.7];
const xGridValues = [
  0.001, 0.002, 0.003, 0.004, 0.005, 0.006, 0.007, 0.008, 0.009,
  0.01, 0.02, 0.03, 0.04, 0.05, 0.06, 0.07, 0.08, 0.09,
  0.1, 0.2, 0.3, 0.4, 0.5, 0.6, 0.7, 0.8, 0.9,
  1, 2, 3, 4, 5, 6, 7, 8, 9, 10,
];
const yMajor = [0.001, 0.01, 0.1];
const yMinor = [
  0.002, 0.003, 0.004, 0.005, 0.006, 0.007, 0.008, 0.009,
  0.02, 0.03, 0.04, 0.05, 0.06, 0.07, 0.08, 0.09,
  0.2, 0.3, 0.4, 0.5,
];
const snrTicks = [250, 500, 750, 1000, 1250, 1500, 1750];
const viridis = ["#fde725", "#b5de2b", "#6ece58", "#35b779", "#1f9e89", "#26828e", "#31688e", "#3e4989", "#482878", "#440154"];

const SERIF = "Liberation Serif";
const grids = [
  { left: 227, top: 87, width: 868, height: 360 },
  { left: 1181, top: 87, width: 868, height: 360 },
  { left: 227, top: 483, width: 868, height: 359 },
  { left: 1181, top: 483, width: 868, height: 359 },
];
const legendBoxes = [
  { x: 242, y: 104, w: 200, h: 59 },
  { x: 1196, y: 104, w: 202, h: 59 },
  { x: 242, y: 499, w: 261, h: 60 },
  { x: 1196, y: 499, w: 262, h: 60 },
];
const toData = (rows: number[][]) => rows.map(([lx, ly, s]) => [10 ** lx, 10 ** ly, s]);
const powerLabel = (v: number) => {
  const e = Math.log10(v);
  if (Math.abs(e - Math.round(e)) > 1e-6) return "";
  const n = Math.round(e);
  return `{a|10}{b|${n < 0 ? "\u2212" + -n : n}}`;
};
const powerRich = {
  a: { fontSize: 46, fontFamily: SERIF, color: "#000" },
  b: { fontSize: 31, fontFamily: SERIF, color: "#000", verticalAlign: "top" },
};

const dotItem = (r: number) => (_params: any, api: any) => {
  const p = api.coord([api.value(0), api.value(1)]);
  return {
    type: "circle",
    shape: { cx: p[0], cy: p[1], r },
    style: { fill: api.visual("color") },
  };
};
const xGridItem = (params: any, api: any) => {
  const p = api.coord([api.value(0), api.value(1)]);
  const r = params.coordSys;
  return {
    type: "line",
    shape: { x1: p[0], y1: r.y, x2: p[0], y2: r.y + r.height },
    style: { stroke: "#d3d3d3", lineWidth: 2 },
  };
};
const dashItem = (params: any, api: any) => {
  const p = api.coord([api.value(0), api.value(1)]);
  const r = params.coordSys;
  return {
    type: "line",
    shape: { x1: p[0], y1: r.y, x2: p[0], y2: r.y + r.height },
    style: { stroke: "#6e6e6e", lineWidth: 2.6, lineDash: [11, 5] },
  };
};
const yGridItem = (params: any, api: any) => {
  const p = api.coord([api.value(0), api.value(1)]);
  const r = params.coordSys;
  const major = api.value(2) === 1;
  return {
    type: "group",
    children: [
      {
        type: "line",
        shape: { x1: r.x, y1: p[1], x2: r.x + r.width, y2: p[1] },
        style: { stroke: "#d3d3d3", lineWidth: 2 },
      },
      {
        type: "line",
        shape: { x1: r.x - (major ? 37 : 18), y1: p[1], x2: r.x, y2: p[1] },
        style: { stroke: "#000", lineWidth: major ? 3 : 2 },
      },
    ],
  };
};
const barTickItem = (params: any, api: any) => {
  const p = api.coord([api.value(0), api.value(1)]);
  const r = params.coordSys;
  return {
    type: "line",
    shape: { x1: r.x + r.width, y1: p[1], x2: r.x + r.width + 35, y2: p[1] },
    style: { stroke: "#000", lineWidth: 3 },
  };
};

export default function App() {
  const ref = useRef<HTMLDivElement>(null);

  useEffect(() => {
    if (!ref.current) return;
    const chart = echarts.init(ref.current, undefined, { renderer: "svg" });

    const points = [pointsTL, pointsTR, pointsBL, pointsBR];
    const cores = [coreTL, coreTR, coreBL, coreBR];
    const yGridData = [...yMajor.map((v) => [0.001, v, 1]), ...yMinor.map((v) => [0.001, v, 0])];

    const series: any[] = [];
    const colored: number[] = [];
    grids.forEach((_, i) => {
      const axes = { type: "custom", xAxisIndex: i, yAxisIndex: i, silent: true };
      series.push({ ...axes, z: 1, renderItem: xGridItem, data: xGridValues.map((v) => [v, 0.001]) });
      series.push({ ...axes, z: 1, renderItem: yGridItem, data: yGridData });
      colored.push(series.length);
      series.push({ ...axes, z: 2, clip: true, renderItem: dotItem(12.5), data: toData(cores[i]) });
      colored.push(series.length);
      series.push({ ...axes, z: 3, clip: true, renderItem: dotItem(5), data: toData(points[i]) });
      series.push({ ...axes, z: 4, renderItem: dashItem, data: dashedX.map((v) => [v, 0.001]) });
    });
    series.push({
      type: "custom",
      xAxisIndex: 4,
      yAxisIndex: 4,
      silent: true,
      z: 5,
      renderItem: barTickItem,
      data: snrTicks.map((v) => [0, v]),
    });

    const graphic: any[] = [
      {
        type: "text",
        x: 226,
        y: 77,
        style: {
          text: "BNS\u00a0\u00a0\u2013\u00a0\u00a010-year\u00a0\u00a0population",
          fontSize: 69,
          fontFamily: SERIF,
          fill: "#000",
          verticalAlign: "bottom",
        },
      },
      {
        type: "text",
        x: 44,
        y: 467,
        rotation: Math.PI / 2,
        style: {
          text: "{a|\u0394}{i|D}{s|L}{a|/}{i|D}{s|L}",
          align: "center",
          verticalAlign: "middle",
          fill: "#000",
          rich: {
            a: { fontSize: 54, fontFamily: SERIF },
            i: { fontSize: 54, fontFamily: SERIF, fontStyle: "italic" },
            s: { fontSize: 34, fontFamily: SERIF, fontStyle: "italic", verticalAlign: "bottom" },
          },
        },
      },
      {
        type: "text",
        x: 2308,
        y: 464,
        rotation: -Math.PI / 2,
        style: {
          text: "{a|SNR\u00a0\u00a0}{i|\u03c1}",
          align: "center",
          verticalAlign: "middle",
          fill: "#000",
          rich: {
            a: { fontSize: 48, fontFamily: SERIF },
            i: { fontSize: 48, fontFamily: SERIF, fontStyle: "italic" },
          },
        },
      },
      {
        type: "text",
        x: 1310,
        y: 984,
        style: {
          text: "{a|\u03a9}{s|90}{a|\u00a0\u00a0(deg}{u|2}{a|)}",
          align: "center",
          verticalAlign: "middle",
          fill: "#000",
          rich: {
            a: { fontSize: 48, fontFamily: SERIF },
            s: { fontSize: 32, fontFamily: SERIF, verticalAlign: "bottom" },
            u: { fontSize: 32, fontFamily: SERIF, verticalAlign: "top" },
          },
        },
      },
      {
        type: "rect",
        z: 100,
        shape: { x: 2071, y: 87, width: 38, height: 755 },
        style: { fill: "none", stroke: "#000", lineWidth: 2.5 },
      },
    ];
    grids.forEach((g, i) => {
      const b = legendBoxes[i];
      graphic.push(
        {
          type: "rect",
          z: 100,
          shape: { x: g.left, y: g.top, width: g.width, height: g.height },
          style: { fill: "none", stroke: "#000", lineWidth: 3 },
        },
        {
          type: "rect",
          z: 90,
          shape: { x: b.x, y: b.y, width: b.w, height: b.h, r: 11 },
          style: { fill: "rgba(255,255,255,0.8)", stroke: "#dcdcdc", lineWidth: 3 },
        },
        {
          type: "text",
          z: 91,
          x: b.x + 11,
          y: b.y + b.h / 2 + 2,
          style: {
            text: panelNames[i],
            fontSize: 33,
            fontFamily: "Liberation Mono",
            fill: "#000",
            verticalAlign: "middle",
          },
        }
      );
    });

    chart.setOption({
      animation: false,
      backgroundColor: "#fff",
      grid: [...grids, { left: 2071, top: 87, width: 38, height: 755 }],
      xAxis: [
        ...grids.map((_, i) => ({
          type: "log",
          gridIndex: i,
          logBase: 10,
          min: 0.001,
          max: 10,
          axisLine: { show: false },
          axisTick: { show: false },
          splitLine: { show: false },
          axisLabel: {
            show: i >= 2,
            margin: 8,
            formatter: powerLabel,
            rich: powerRich,
            showMinLabel: true,
            showMaxLabel: true,
          },
        })),
        { type: "value", gridIndex: 4, show: false, min: 0, max: 1 },
      ],
      yAxis: [
        ...grids.map((_, i) => ({
          type: "log",
          gridIndex: i,
          logBase: 10,
          min: 0.001,
          max: 0.5,
          axisLine: { show: false },
          axisTick: { show: false },
          splitLine: { show: false },
          axisLabel: {
            show: i % 2 === 0,
            margin: 50,
            formatter: powerLabel,
            rich: powerRich,
            showMinLabel: true,
            showMaxLabel: false,
          },
        })),
        {
          type: "value",
          gridIndex: 4,
          position: "right",
          min: 15,
          max: 1835,
          axisLine: { show: false },
          splitLine: { show: false },
          axisTick: { show: false },
          axisLabel: {
            customValues: snrTicks,
            margin: 44,
            fontSize: 43,
            fontFamily: SERIF,
            color: "#000",
            formatter: (v: number) => String(v),
          },
        },
      ],
      visualMap: {
        type: "continuous",
        min: 15,
        max: 1835,
        dimension: 2,
        seriesIndex: colored,
        left: 2071,
        top: 87,
        padding: 0,
        itemWidth: 38,
        itemHeight: 755,
        calculable: false,
        hoverLink: false,
        showLabel: false,
        text: ["", ""],
        inRange: { color: viridis },
      },
      graphic,
      series,
    });

    return () => chart.dispose();
  }, []);

  return (
    <div
      ref={ref}
      style={{ position: "absolute", left: 0, top: 0, width: 2444, height: 1030 }}
    />
  );
}
